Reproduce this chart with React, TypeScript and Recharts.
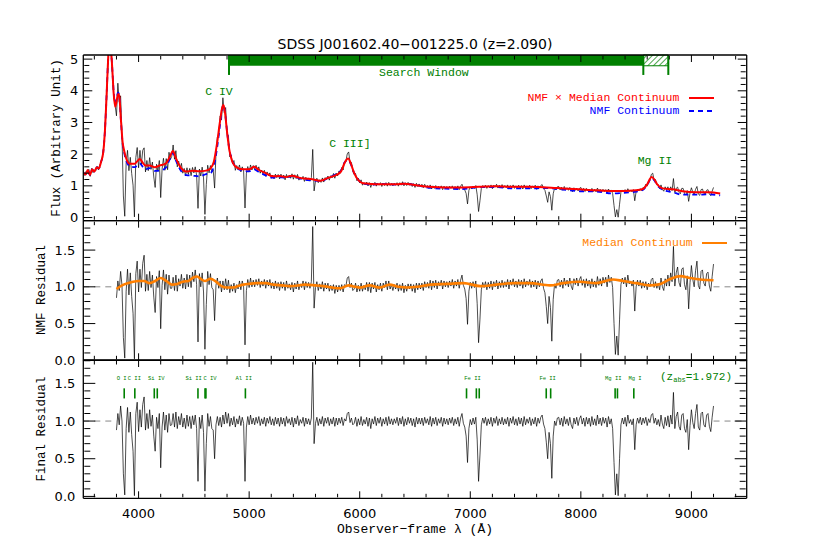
import React from "react";
import { LineChart, Line, XAxis, YAxis, ReferenceLine, ReferenceArea, ReferenceDot } from "recharts";

const GREEN = "#008000";
const SANS = "'DejaVu Sans', sans-serif";
const MONO = "'Liberation Mono', 'DejaVu Sans Mono', monospace";

// observed spectrum, sampled every STEP angstrom
const STEP = 12.5;
const FLUX_START = 3500;
const RES_START = 3800;

const flux = [
  1.48, 1.33, 1.45, 1.4, 1.52, 1.3, 1.55, 1.42, 1.5, 1.47, 1.62, 1.5, 1.68, 1.72, 2.0, 2.3, 3.1, 3.95, 5.0, 5.6, 5.2, 4.6, 3.8, 3.55,
  3.21, 4.24, 3.66, 3.84, 2.6, 0.68, 0.04, 1.71, 2.12, 1.48, 1.9, 1.39, 1.02, 0.02, 1.89, 2.21, 1.57, 2.12, 1.66, 2.12,
  2.2, 1.44, 1.8, 1.48, 1.89, 1.52, 1.75, 1.28, 0.95, 1.68, 1.46, 1.8, 0.63, 1.53, 1.87, 1.49, 1.86, 1.51, 2.06, 1.83,
  1.93, 2.29, 1.84, 2.11, 1.6, 1.78, 1.52, 1.71, 1.4, 1.55, 1.31, 1.57, 1.36, 1.55, 1.32, 1.58, 1.41, 1.6, 1.32, 0.29,
  1.53, 1.31, 1.59, 1.25, 0.1, 1.04, 1.65, 1.41, 1.64, 1.44, 1.5, 0.93, 2.0, 2.54, 2.59, 3.2, 3.08, 3.78, 3.31, 3.47,
  2.62, 2.59, 1.91, 1.96, 1.69, 1.8, 1.49, 1.64, 1.51, 1.66, 1.44, 1.6, 1.47, 0.3, 1.4, 1.61, 1.44, 1.66, 1.5, 1.64,
  1.51, 1.65, 1.49, 1.6, 1.4, 1.5, 1.38, 1.49, 1.3, 1.44, 1.32, 1.41, 1.24, 1.34, 1.22, 1.37, 1.26, 1.36, 1.22, 1.37,
  1.25, 1.34, 1.19, 1.36, 1.25, 1.34, 1.24, 1.38, 1.21, 1.35, 1.23, 1.36, 1.18, 1.28, 1.21, 1.3, 1.14, 1.27, 1.17, 1.25,
  1.15, 1.26, 2.15, 0.84, 1.15, 1.24, 1.1, 1.19, 1.11, 1.25, 1.12, 1.26, 1.19, 1.31, 1.18, 1.32, 1.25, 1.39, 1.24, 1.4,
  1.31, 1.47, 1.4, 1.58, 1.5, 1.75, 1.78, 2.01, 2.07, 1.74, 1.74, 1.47, 1.36, 1.39, 1.16, 1.24, 1.09, 1.19, 1.02, 1.1,
  1.03, 1.12, 1.0, 1.1, 0.95, 1.09, 1.02, 1.11, 0.99, 1.09, 1.02, 1.1, 0.98, 1.08, 1.01, 1.1, 0.99, 1.11, 1.01, 1.08,
  1.0, 1.08, 1.02, 1.1, 0.99, 1.1, 1.02, 1.13, 1.0, 1.1, 1.01, 1.11, 1.02, 1.09, 0.98, 1.07, 0.95, 1.08, 0.98, 1.06,
  0.97, 1.05, 0.94, 1.05, 0.96, 1.01, 0.92, 1.03, 0.9, 1.0, 0.92, 1.01, 0.9, 0.99, 0.93, 1.0, 0.88, 0.99, 0.91, 0.98,
  0.9, 0.99, 0.92, 1.0, 0.89, 0.98, 0.91, 1.0, 0.88, 0.99, 1.05, 0.92, 0.87, 0.76, 0.43, 0.86, 0.97, 0.9, 0.99, 0.92,
  1.01, 0.72, 0.19, 0.53, 0.92, 1.01, 0.94, 1.02, 0.92, 1.01, 0.94, 1.03, 0.91, 1.02, 0.96, 1.05, 0.93, 1.02, 0.95, 1.04,
  0.94, 1.01, 0.94, 1.03, 0.91, 1.01, 0.94, 1.03, 0.92, 1.0, 0.91, 1.02, 0.93, 1.01, 0.9, 1.03, 0.92, 1.0, 0.94, 1.02,
  0.91, 1.0, 0.93, 1.02, 0.89, 1.0, 0.93, 1.01, 1.04, 0.91, 0.86, 0.68, 0.48, 0.81, 0.66, 0.23, 0.75, 0.93, 0.87, 0.97,
  0.98, 0.87, 0.96, 0.86, 0.98, 0.87, 0.94, 0.86, 0.95, 0.86, 0.81, 0.94, 0.86, 0.93, 0.84, 0.92, 0.95, 0.84, 0.92, 0.82,
  0.92, 0.84, 0.9, 0.81, 0.92, 0.82, 0.89, 0.81, 0.93, 0.83, 0.89, 0.8, 0.89, 0.82, 0.88, 0.78, 0.9, 0.81, 0.87, 0.76,
  0.38, 0.02, 0.25, 0.01, 0.42, 0.8, 0.87, 0.81, 0.88, 0.78, 0.91, 0.82, 0.87, 0.81, 0.88, 0.53, 0.82, 0.89, 0.84, 0.91,
  0.85, 0.95, 0.92, 1.05, 0.99, 1.15, 1.18, 1.36, 1.4, 1.18, 1.2, 1.03, 1.04, 0.91, 1.03, 0.89, 0.83, 0.97, 0.86, 0.97,
  0.83, 0.97, 0.85, 1.23, 0.79, 0.92, 0.96, 0.8, 0.75, 0.92, 0.92, 0.76, 0.71, 0.85, 0.51, 0.78, 0.94, 0.8, 0.73, 0.89,
  0.98, 0.74, 0.7, 0.88, 0.9, 0.76, 0.74, 0.86, 0.88, 0.74, 0.69, 0.83, 0.95,
];

const nmfResidual = [
  0.85, 1.08, 0.95, 1.21, 1.02, 0.31, 0.03, 0.94, 1.24, 0.89, 1.19, 0.87, 0.64, 0.02, 1.18, 1.35, 0.93, 1.24, 0.99, 1.32,
  1.43, 0.94, 1.17, 0.95, 1.21, 0.99, 1.16, 0.86, 0.65, 1.14, 0.99, 1.22, 0.43, 1.02, 1.23, 0.96, 1.17, 0.9, 1.16, 0.98,
  0.98, 1.13, 0.95, 1.16, 0.94, 1.11, 1.01, 1.17, 0.98, 1.12, 0.97, 1.17, 1.0, 1.16, 0.99, 1.2, 1.07, 1.23, 1.03, 0.25,
  1.18, 1.0, 1.19, 0.93, 0.15, 0.76, 1.21, 1.03, 1.18, 0.99, 0.96, 0.54, 1.02, 1.12, 0.98, 1.08, 0.93, 1.08, 0.96, 1.11,
  0.96, 1.09, 0.92, 1.03, 0.94, 1.05, 0.92, 1.03, 0.97, 1.08, 0.96, 1.08, 1.0, 0.21, 0.95, 1.1, 0.99, 1.12, 1.0, 1.09,
  1.0, 1.1, 1.02, 1.11, 0.99, 1.08, 1.01, 1.1, 0.98, 1.09, 1.01, 1.1, 0.98, 1.06, 0.97, 1.08, 0.98, 1.06, 0.95, 1.07,
  0.98, 1.06, 0.95, 1.08, 0.98, 1.04, 0.96, 1.06, 0.93, 1.05, 0.97, 1.08, 0.96, 1.04, 0.99, 1.08, 0.96, 1.07, 0.99, 1.06,
  0.98, 1.07, 1.82, 0.71, 0.99, 1.07, 0.95, 1.04, 0.97, 1.07, 0.94, 1.05, 0.97, 1.05, 0.94, 1.02, 0.95, 1.03, 0.91, 1.02,
  0.93, 1.02, 0.95, 1.03, 0.93, 1.03, 1.01, 1.12, 1.14, 0.99, 1.05, 0.95, 0.97, 1.05, 0.93, 1.02, 0.94, 1.05, 0.94, 1.02,
  0.96, 1.06, 0.94, 1.06, 0.92, 1.05, 0.97, 1.06, 0.93, 1.03, 0.96, 1.05, 0.94, 1.05, 0.99, 1.08, 0.96, 1.08, 0.97, 1.03,
  0.95, 1.03, 0.97, 1.05, 0.94, 1.03, 0.95, 1.05, 0.92, 1.02, 0.94, 1.04, 0.97, 1.04, 0.94, 1.03, 0.92, 1.05, 0.96, 1.05,
  0.97, 1.05, 0.95, 1.07, 0.99, 1.06, 0.98, 1.09, 0.96, 1.08, 0.99, 1.09, 0.97, 1.07, 1.01, 1.09, 0.97, 1.08, 1.0, 1.07,
  0.99, 1.08, 1.01, 1.1, 0.98, 1.08, 1.01, 1.1, 0.98, 1.09, 1.16, 1.02, 0.97, 0.84, 0.49, 0.94, 1.06, 0.98, 1.07, 0.99,
  1.08, 0.77, 0.24, 0.56, 0.96, 1.06, 0.99, 1.07, 0.96, 1.06, 0.98, 1.08, 0.96, 1.07, 1.0, 1.09, 0.97, 1.07, 0.99, 1.09,
  0.99, 1.07, 1.0, 1.1, 0.97, 1.09, 1.02, 1.11, 1.0, 1.08, 0.99, 1.1, 1.01, 1.09, 0.98, 1.11, 1.0, 1.08, 1.02, 1.1,
  0.99, 1.08, 1.0, 1.09, 0.97, 1.08, 1.0, 1.08, 1.11, 0.98, 0.92, 0.73, 0.5, 0.87, 0.72, 0.26, 0.83, 1.04, 0.98, 1.09,
  1.1, 1.0, 1.09, 0.98, 1.12, 1.02, 1.09, 1.0, 1.12, 1.01, 0.96, 1.11, 1.03, 1.12, 1.01, 1.1, 1.14, 1.02, 1.1, 0.99,
  1.11, 1.01, 1.09, 0.98, 1.11, 1.0, 1.08, 0.99, 1.14, 1.02, 1.11, 1.01, 1.13, 1.05, 1.13, 1.0, 1.16, 1.06, 1.13, 0.99,
  0.5, 0.08, 0.33, 0.07, 0.55, 1.03, 1.12, 1.04, 1.13, 1.0, 1.16, 1.04, 1.08, 1.01, 1.09, 0.67, 1.0, 1.09, 1.01, 1.09,
  0.98, 1.07, 0.99, 1.07, 0.96, 1.05, 1.0, 1.1, 1.12, 0.99, 1.07, 0.98, 1.05, 0.96, 1.12, 1.0, 0.95, 1.11, 1.01, 1.16,
  1.01, 1.19, 1.07, 1.55, 1.01, 1.19, 1.27, 1.06, 1.0, 1.24, 1.26, 1.03, 0.96, 1.15, 0.7, 1.06, 1.29, 1.1, 1.0, 1.22,
  1.35, 1.02, 0.97, 1.21, 1.23, 1.05, 1.01, 1.18, 1.2, 1.01, 0.94, 1.14, 1.31,
];

const finalResidual = [
  0.88, 1.1, 0.95, 1.2, 1.0, 0.3, 0.02, 0.9, 1.18, 0.85, 1.12, 0.82, 0.6, 0.01, 1.1, 1.25, 0.86, 1.15, 0.92, 1.22,
  1.32, 0.88, 1.1, 0.9, 1.15, 0.93, 1.08, 0.8, 0.6, 1.05, 0.9, 1.1, 0.38, 0.92, 1.12, 0.88, 1.08, 0.85, 1.1, 0.94,
  0.95, 1.1, 0.92, 1.12, 0.9, 1.06, 0.95, 1.1, 0.92, 1.04, 0.9, 1.08, 0.93, 1.06, 0.9, 1.07, 0.95, 1.08, 0.9, 0.2,
  1.05, 0.9, 1.08, 0.85, 0.07, 0.7, 1.1, 0.93, 1.06, 0.9, 0.88, 0.5, 0.95, 1.06, 0.94, 1.05, 0.92, 1.08, 0.96, 1.12,
  0.97, 1.1, 0.93, 1.04, 0.95, 1.06, 0.92, 1.03, 0.96, 1.07, 0.94, 1.05, 0.97, 0.2, 0.92, 1.06, 0.95, 1.08, 0.96, 1.04,
  0.95, 1.05, 0.97, 1.06, 0.94, 1.03, 0.96, 1.05, 0.93, 1.04, 0.97, 1.06, 0.95, 1.03, 0.94, 1.05, 0.96, 1.04, 0.93, 1.05,
  0.96, 1.04, 0.93, 1.06, 0.97, 1.03, 0.95, 1.05, 0.92, 1.04, 0.96, 1.07, 0.94, 1.02, 0.97, 1.05, 0.93, 1.04, 0.96, 1.03,
  0.95, 1.04, 1.78, 0.7, 0.97, 1.05, 0.94, 1.03, 0.96, 1.06, 0.93, 1.04, 0.97, 1.05, 0.94, 1.03, 0.96, 1.05, 0.93, 1.04,
  0.95, 1.04, 0.97, 1.05, 0.94, 1.03, 1.0, 1.1, 1.12, 0.98, 1.04, 0.95, 0.97, 1.05, 0.93, 1.03, 0.95, 1.06, 0.94, 1.02,
  0.96, 1.05, 0.93, 1.04, 0.9, 1.03, 0.96, 1.06, 0.94, 1.04, 0.97, 1.05, 0.93, 1.03, 0.96, 1.05, 0.94, 1.06, 0.96, 1.03,
  0.95, 1.03, 0.97, 1.05, 0.94, 1.04, 0.96, 1.06, 0.93, 1.03, 0.95, 1.05, 0.97, 1.04, 0.94, 1.03, 0.92, 1.05, 0.96, 1.04,
  0.96, 1.04, 0.94, 1.05, 0.97, 1.03, 0.95, 1.06, 0.93, 1.04, 0.96, 1.05, 0.94, 1.03, 0.97, 1.05, 0.93, 1.04, 0.96, 1.03,
  0.95, 1.04, 0.97, 1.05, 0.94, 1.03, 0.96, 1.05, 0.93, 1.04, 1.1, 0.97, 0.92, 0.8, 0.45, 0.9, 1.02, 0.95, 1.04, 0.96,
  1.05, 0.75, 0.2, 0.55, 0.95, 1.04, 0.97, 1.05, 0.94, 1.03, 0.96, 1.05, 0.93, 1.04, 0.97, 1.06, 0.94, 1.03, 0.96, 1.05,
  0.95, 1.03, 0.96, 1.05, 0.93, 1.04, 0.97, 1.06, 0.95, 1.03, 0.94, 1.05, 0.96, 1.04, 0.93, 1.06, 0.95, 1.03, 0.97, 1.05,
  0.94, 1.03, 0.96, 1.05, 0.93, 1.04, 0.97, 1.05, 1.08, 0.96, 0.9, 0.72, 0.5, 0.85, 0.7, 0.24, 0.8, 1.0, 0.94, 1.04,
  1.05, 0.95, 1.04, 0.93, 1.06, 0.96, 1.03, 0.94, 1.05, 0.95, 0.9, 1.04, 0.96, 1.05, 0.94, 1.03, 1.07, 0.96, 1.04, 0.93,
  1.05, 0.96, 1.04, 0.93, 1.06, 0.95, 1.03, 0.94, 1.08, 0.96, 1.04, 0.94, 1.05, 0.97, 1.04, 0.92, 1.06, 0.96, 1.03, 0.9,
  0.45, 0.02, 0.3, 0.01, 0.5, 0.95, 1.04, 0.96, 1.05, 0.93, 1.08, 0.97, 1.02, 0.95, 1.03, 0.62, 0.95, 1.04, 0.97, 1.05,
  0.95, 1.04, 0.97, 1.05, 0.94, 1.03, 0.98, 1.08, 1.1, 0.97, 1.04, 0.95, 1.02, 0.93, 1.08, 0.96, 0.9, 1.05, 0.94, 1.07,
  0.92, 1.08, 0.96, 1.38, 0.9, 1.06, 1.12, 0.93, 0.88, 1.08, 1.1, 0.9, 0.85, 1.02, 0.62, 0.94, 1.15, 0.98, 0.9, 1.1,
  1.22, 0.92, 0.88, 1.1, 1.12, 0.95, 0.92, 1.08, 1.1, 0.93, 0.86, 1.05, 1.2,
];

// NMF continuum models (red, blue)
const contWave = [
  3500, 3520, 3540, 3560, 3580, 3600, 3620, 3640, 3660, 3680, 3695, 3710, 3722, 3735, 3750,
  3762, 3775, 3788, 3800, 3815, 3825, 3840, 3855, 3870, 3885, 3920, 3965, 4010, 4040, 4060,
  4100, 4146, 4190, 4245, 4280, 4311, 4340, 4386, 4431, 4490, 4550, 4610, 4650, 4680, 4710,
  4735, 4755, 4768, 4782, 4800, 4820, 4840, 4880, 4940, 5000, 5046, 5090, 5150, 5210, 5270,
  5330, 5390, 5450, 5510, 5570, 5645, 5720, 5780, 5830, 5860, 5895, 5920, 5950, 5990, 6030,
  6100, 6180, 6330, 6400, 6510, 6630, 6780, 6930, 7080, 7230, 7380, 7530, 7690, 7840, 7990,
  8140, 8290, 8380, 8500, 8560, 8600, 8640, 8665, 8690, 8740, 8830, 8920, 9040, 9160, 9260,
];
const nmfTimesMedian = [
  1.42, 1.36, 1.5, 1.34, 1.52, 1.45, 1.58, 1.55, 1.75, 2.05, 2.7, 3.8, 4.8, 5.5, 5.3,
  4.7, 3.9, 3.5, 3.65, 3.9, 3.85, 3.1, 2.4, 2.1, 1.9, 1.7, 1.7, 1.85, 1.72, 1.64,
  1.64, 1.59, 1.64, 1.7, 1.9, 2.1, 1.85, 1.55, 1.45, 1.48, 1.46, 1.48, 1.55, 1.75, 2.35,
  3.0, 3.45, 3.55, 3.3, 2.7, 2.15, 1.85, 1.6, 1.52, 1.52, 1.6, 1.5, 1.4, 1.3, 1.31,
  1.28, 1.32, 1.26, 1.23, 1.21, 1.16, 1.26, 1.33, 1.45, 1.7, 1.86, 1.7, 1.4, 1.17, 1.08,
  1.06, 1.05, 1.05, 1.07, 1.02, 0.97, 0.95, 0.95, 0.97, 0.99, 0.97, 0.97, 0.95, 0.92, 0.89,
  0.86, 0.84, 0.84, 0.86, 0.9, 1.05, 1.28, 1.2, 1.05, 0.92, 0.89, 0.83, 0.8, 0.8, 0.76,
];
const nmfContinuum = [
  1.42, 1.36, 1.5, 1.34, 1.52, 1.45, 1.58, 1.55, 1.75, 2.05, 2.7, 3.8, 4.8, 5.5, 5.3,
  4.7, 3.95, 3.6, 3.76, 3.94, 3.85, 3.07, 2.35, 2.04, 1.83, 1.62, 1.59, 1.71, 1.59, 1.52,
  1.56, 1.47, 1.48, 1.57, 1.83, 2.04, 1.78, 1.46, 1.34, 1.32, 1.3, 1.37, 1.4, 1.61, 2.2,
  2.88, 3.42, 3.55, 3.3, 2.73, 2.17, 1.87, 1.6, 1.48, 1.46, 1.52, 1.43, 1.33, 1.26, 1.28,
  1.25, 1.31, 1.24, 1.19, 1.17, 1.15, 1.26, 1.36, 1.48, 1.72, 1.82, 1.68, 1.4, 1.18, 1.08,
  1.04, 1.06, 1.04, 1.07, 1.02, 0.94, 0.91, 0.9, 0.96, 0.96, 0.92, 0.92, 0.93, 0.88, 0.83,
  0.82, 0.76, 0.78, 0.82, 0.87, 1.03, 1.25, 1.17, 1.02, 0.88, 0.8, 0.72, 0.72, 0.73, 0.7,
];

// median continuum (orange)
const medWave = [
  3800, 3850, 3900, 3950, 4000, 4050, 4100, 4150, 4200, 4250, 4300, 4350, 4400, 4450, 4500,
  4530, 4560, 4600, 4650, 4700, 4750, 4800, 4850, 4900, 4950, 5000, 5070, 5150, 5220, 5300,
  5370, 5450, 5500, 5600, 5670, 5750, 5820, 5900, 5960, 6000, 6090, 6180, 6270, 6350, 6430,
  6520, 6640, 6790, 6940, 7090, 7240, 7390, 7540, 7720, 7840, 7990, 8140, 8290, 8380, 8500,
  8620, 8700, 8800, 8900, 8990, 9080, 9200,
];
const medianContinuum = [
  0.97, 1.02, 1.05, 1.07, 1.08, 1.08, 1.05, 1.08, 1.12, 1.08, 1.03, 1.04, 1.07, 1.08, 1.13,
  1.14, 1.11, 1.08, 1.11, 1.07, 1.01, 0.99, 0.99, 1.01, 1.03, 1.04, 1.05, 1.05, 1.03, 1.02,
  1.01, 1.02, 1.03, 1.02, 1.01, 0.99, 0.98, 1.02, 1.0, 0.99, 1.02, 0.99, 1.03, 1.0, 0.99,
  1.0, 1.03, 1.04, 1.05, 1.01, 1.03, 1.05, 1.05, 1.02, 1.05, 1.07, 1.05, 1.1, 1.08, 1.05,
  1.02, 1.03, 1.1, 1.145, 1.12, 1.1, 1.09,
];

// axes
const X_DOMAIN = [3500, 9500];
const X_MAJOR = [4000, 5000, 6000, 7000, 8000, 9000];
const X_MINOR = [3600, 3800, 4200, 4400, 4600, 4800, 5200, 5400, 5600, 5800, 6200, 6400, 6600, 6800, 7200, 7400, 7600, 7800, 8200, 8400, 8600, 8800, 9200, 9400];
const FLUX_DOMAIN = [-0.1, 5.13];
const FLUX_MAJOR = [0, 1, 2, 3, 4, 5];
const FLUX_MINOR = [0.2, 0.4, 0.6, 0.8, 1.2, 1.4, 1.6, 1.8, 2.2, 2.4, 2.6, 2.8, 3.2, 3.4, 3.6, 3.8, 4.2, 4.4, 4.6, 4.8];
const NMF_DOMAIN = [0, 1.9];
const FINAL_DOMAIN = [-0.025, 1.81];
const RES_MAJOR = [0, 0.5, 1, 1.5];
const RES_MINOR = [0.1, 0.2, 0.3, 0.4, 0.6, 0.7, 0.8, 0.9, 1.1, 1.2, 1.3, 1.4, 1.6, 1.7, 1.8];

// annotations
const emissionLabels = [
  { text: "C IV", w: 4727, y: 3.99 },
  { text: "C III]", w: 5911, y: 2.34 },
  { text: "Mg II", w: 8670, y: 1.81 },
  { text: "Search Window", w: 6580, y: 4.59 },
];
const searchWindow = [4818, 8565];
const searchHatch = [8565, 8791];
const absLines = [3870, 3966, 4142, 4169, 4537, 4601, 4609, 4966, 6966, 7055, 7081, 7687, 7727, 8310, 8331, 8479];
const absLabels = [
  { text: "O I", w: 3847 },
  { text: "C II", w: 3962 },
  { text: "Si IV", w: 4160 },
  { text: "Si II", w: 4498 },
  { text: "C IV", w: 4646 },
  { text: "Al II", w: 4951 },
  { text: "Fe II", w: 7020 },
  { text: "Fe II", w: 7700 },
  { text: "Mg II", w: 8293 },
  { text: "Mg I", w: 8490 },
];

const fluxData = flux.map((v, i) => ({ w: FLUX_START + i * STEP, v }));
const nmfResData = nmfResidual.map((v, i) => ({ w: RES_START + i * STEP, v }));
const finalResData = finalResidual.map((v, i) => ({ w: RES_START + i * STEP, v }));
const redData = contWave.map((w, i) => ({ w, v: nmfTimesMedian[i] }));
const blueData = contWave.map((w, i) => ({ w, v: nmfContinuum[i] }));
const orangeData = medWave.map((w, i) => ({ w, v: medianContinuum[i] }));

const noLabel = () => <g />;

// ticks on all four sides, pointing inward (mirror axes, no labels)
function frameAxes(yDomain: number[], yMajor: number[], yMinor: number[], yMaj: number, yMin: number) {
  const c = { type: "number" as const, allowDataOverflow: true, interval: 0 as const, tick: noLabel, tickLine: { stroke: "#000", strokeWidth: 1 }, stroke: "#000" };
  return [
    <XAxis key="xb" xAxisId="x" dataKey="w" domain={X_DOMAIN} ticks={X_MAJOR} orientation="bottom" mirror height={1} tickSize={7} axisLine={{ strokeWidth: 1.3 }} {...c} />,
    <XAxis key="xbm" xAxisId="xbm" dataKey="w" domain={X_DOMAIN} ticks={X_MINOR} orientation="bottom" mirror height={1} tickSize={3.5} axisLine={false} {...c} />,
    <XAxis key="xt" xAxisId="xt" dataKey="w" domain={X_DOMAIN} ticks={X_MAJOR} orientation="top" mirror height={1} tickSize={7} axisLine={{ strokeWidth: 1.3 }} {...c} />,
    <XAxis key="xtm" xAxisId="xtm" dataKey="w" domain={X_DOMAIN} ticks={X_MINOR} orientation="top" mirror height={1} tickSize={3.5} axisLine={false} {...c} />,
    <YAxis key="yl" yAxisId="yl" domain={yDomain} ticks={yMajor} orientation="left" mirror width={1} tickSize={yMaj} axisLine={false} {...c} />,
    <YAxis key="ylm" yAxisId="ylm" domain={yDomain} ticks={yMinor} orientation="left" mirror width={1} tickSize={yMin} axisLine={false} {...c} />,
    <YAxis key="yr" yAxisId="yr" domain={yDomain} ticks={yMajor} orientation="right" mirror width={1} tickSize={yMaj} axisLine={{ strokeWidth: 1.3 }} {...c} />,
    <YAxis key="yrm" yAxisId="yrm" domain={yDomain} ticks={yMinor} orientation="right" mirror width={1} tickSize={yMin} axisLine={false} {...c} />,
  ];
}

function labelAxis(domain: number[], ticks: number[], margin: number, fmt: (v: number) => string) {
  return (
    <YAxis
      yAxisId="y"
      type="number"
      domain={domain}
      ticks={ticks}
      allowDataOverflow
      interval={0}
      width={40}
      stroke="#000"
      axisLine={{ strokeWidth: 1.3 }}
      tickLine={false}
      tickSize={0}
      tickMargin={margin}
      tickFormatter={fmt}
      tick={{ fill: "#000", fontSize: 13, fontFamily: SANS }}
    />
  );
}

const layer: React.CSSProperties = { position: "absolute", left: 0, top: 0 };

function FluxPanel() {
  return (
    <LineChart width={830} height={554} margin={{ top: 55, right: 83.3, bottom: 333.3, left: 43.3 }}>
      <defs>
        <pattern id="hatch" width="4" height="4" patternUnits="userSpaceOnUse" patternTransform="rotate(45)">
          <line x1="0" y1="0" x2="0" y2="4" stroke={GREEN} strokeWidth="1.4" />
        </pattern>
      </defs>
      {frameAxes(FLUX_DOMAIN, FLUX_MAJOR, FLUX_MINOR, 9, 5)}
      {labelAxis(FLUX_DOMAIN, FLUX_MAJOR, 5, (v) => String(v))}
      <Line xAxisId="x" yAxisId="y" data={fluxData} dataKey="v" type="linear" stroke="#000" strokeWidth={0.7} dot={false} isAnimationActive={false} />
      <Line xAxisId="x" yAxisId="y" data={blueData} dataKey="v" type="monotone" stroke="#0000ff" strokeWidth={1.8} strokeDasharray="5 4" dot={false} isAnimationActive={false} />
      <Line xAxisId="x" yAxisId="y" data={redData} dataKey="v" type="monotone" stroke="#ff0000" strokeWidth={2} dot={false} isAnimationActive={false} />
      <ReferenceArea xAxisId="x" yAxisId="y" x1={searchWindow[0]} x2={searchWindow[1]} y1={4.79} y2={5.13} fill={GREEN} fillOpacity={1} stroke="none" />
      <ReferenceArea xAxisId="x" yAxisId="y" x1={searchHatch[0]} x2={searchHatch[1]} y1={4.79} y2={5.13} fill="url(#hatch)" fillOpacity={1} stroke={GREEN} strokeWidth={1} />
      {[searchWindow[0], searchHatch[0], searchHatch[1]].map((w) => (
        <ReferenceLine key={w} xAxisId="x" yAxisId="y" segment={[{ x: w, y: 5.13 }, { x: w, y: 4.5 }]} stroke={GREEN} strokeWidth={2} />
      ))}
      {emissionLabels.map((d) => (
        <ReferenceDot key={d.text} xAxisId="x" yAxisId="y" x={d.w} y={d.y} r={0} fill="none" stroke="none"
          label={{ value: d.text, position: "center", fill: GREEN, fontSize: 11.5, fontFamily: MONO }} />
      ))}
    </LineChart>
  );
}

function NmfPanel() {
  return (
    <LineChart width={830} height={554} margin={{ top: 220.7, right: 83.3, bottom: 193.7, left: 43.3 }}>
      {frameAxes(NMF_DOMAIN, RES_MAJOR, RES_MINOR, 12, 6)}
      {labelAxis(NMF_DOMAIN, RES_MAJOR, 8, (v) => v.toFixed(1))}
      <ReferenceLine xAxisId="x" yAxisId="y" segment={[{ x: 3500, y: 1 }, { x: 3800, y: 1 }]} stroke="#888" strokeDasharray="6 5" />
      <ReferenceLine xAxisId="x" yAxisId="y" segment={[{ x: 9200, y: 1 }, { x: 9500, y: 1 }]} stroke="#888" strokeDasharray="6 5" />
      <Line xAxisId="x" yAxisId="y" data={nmfResData} dataKey="v" type="linear" stroke="#000" strokeWidth={0.7} dot={false} isAnimationActive={false} />
      <Line xAxisId="x" yAxisId="y" data={orangeData} dataKey="v" type="monotone" stroke="#ff7f00" strokeWidth={2.6} dot={false} isAnimationActive={false} />
    </LineChart>
  );
}

function FinalPanel() {
  return (
    <LineChart width={830} height={554} margin={{ top: 360, right: 83.3, bottom: 25.7, left: 43.3 }}>
      {frameAxes(FINAL_DOMAIN, RES_MAJOR, RES_MINOR, 12, 6)}
      {labelAxis(FINAL_DOMAIN, RES_MAJOR, 8, (v) => v.toFixed(1))}
      <XAxis xAxisId="xl" type="number" dataKey="w" domain={X_DOMAIN} ticks={X_MAJOR} allowDataOverflow interval={0}
        orientation="bottom" height={30} axisLine={false} tickLine={false} tickSize={0} tickMargin={10}
        tick={{ fill: "#000", fontSize: 13, fontFamily: SANS }} />
      <ReferenceLine xAxisId="x" yAxisId="y" segment={[{ x: 3500, y: 1 }, { x: 3800, y: 1 }]} stroke="#888" strokeDasharray="6 5" />
      <ReferenceLine xAxisId="x" yAxisId="y" segment={[{ x: 9200, y: 1 }, { x: 9500, y: 1 }]} stroke="#888" strokeDasharray="6 5" />
      <Line xAxisId="x" yAxisId="y" data={finalResData} dataKey="v" type="linear" stroke="#000" strokeWidth={0.7} dot={false} isAnimationActive={false} />
      {absLines.map((w) => (
        <ReferenceLine key={w} xAxisId="x" yAxisId="y" segment={[{ x: w, y: 1.3 }, { x: w, y: 1.434 }]} stroke={GREEN} strokeWidth={1.6} />
      ))}
      {absLabels.map((d) => (
        <ReferenceDot key={d.text + d.w} xAxisId="x" yAxisId="y" x={d.w} y={1.566} r={0} fill="none" stroke="none"
          label={{ value: d.text, position: "center", fill: GREEN, fontSize: 5.5, fontFamily: MONO }} />
      ))}
    </LineChart>
  );
}

function LegendRow({ text, color, right, y, x1, x2, dash }: { text: string; color: string; right: number; y: number; x1: number; x2: number; dash?: string }) {
  return (
    <>
      <div style={{ position: "absolute", right: 830 - right, top: y - 8, lineHeight: "16px", color, fontFamily: MONO, fontSize: 11.5, whiteSpace: "nowrap" }}>{text}</div>
      <svg style={{ position: "absolute", left: x1, top: y - 3 }} width={x2 - x1} height={6}>
        <line x1={0} y1={3} x2={x2 - x1} y2={3} stroke={color} strokeWidth={2} strokeDasharray={dash} />
      </svg>
    </>
  );
}

function YTitle({ text, x, y }: { text: string; x: number; y: number }) {
  return (
    <div style={{ position: "absolute", left: x, top: y, transform: "translate(-50%, -50%) rotate(-90deg)", fontFamily: MONO, fontSize: 12.5, whiteSpace: "nowrap", color: "#000" }}>
      {text}
    </div>
  );
}

export default function App() {
  return (
    <div style={{ position: "absolute", left: 0, top: 0, width: 830, height: 554, background: "#fff", overflow: "hidden" }}>
      <div style={layer}><FluxPanel /></div>
      <div style={layer}><NmfPanel /></div>
      <div style={layer}><FinalPanel /></div>
      <div style={{ position: "absolute", left: 0, width: 830, top: 35, lineHeight: "18px", textAlign: "center", fontFamily: SANS, fontSize: 14, color: "#000" }}>
        SDSS J001602.40−001225.0 (z=2.090)
      </div>
      <div style={{ position: "absolute", left: 0, width: 830, top: 521, lineHeight: "18px", textAlign: "center", fontFamily: MONO, fontSize: 13, color: "#000" }}>
        Observer−frame λ (Å)
      </div>
      <YTitle text="Flux (Arbitrary Unit)" x={57} y={138} />
      <YTitle text="NMF Residual" x={42} y={290} />
      <YTitle text="Final Residual" x={42} y={429} />
      <LegendRow text="NMF × Median Continuum" color="#ff0000" right={679.3} y={98} x1={689} x2={714} />
      <LegendRow text="NMF Continuum" color="#0000ff" right={679.3} y={111} x1={689} x2={714} dash="5 4" />
      <LegendRow text="Median Continuum" color="#ff7f00" right={692.7} y={243} x1={702} x2={727} />
      <div style={{ position: "absolute", left: 660, top: 370, lineHeight: "14px", fontFamily: MONO, fontSize: 11, color: GREEN, whiteSpace: "nowrap" }}>
        (z<sub style={{ fontSize: 7, verticalAlign: "-2px" }}>abs</sub>=1.972)
      </div>
    </div>
  );
}
